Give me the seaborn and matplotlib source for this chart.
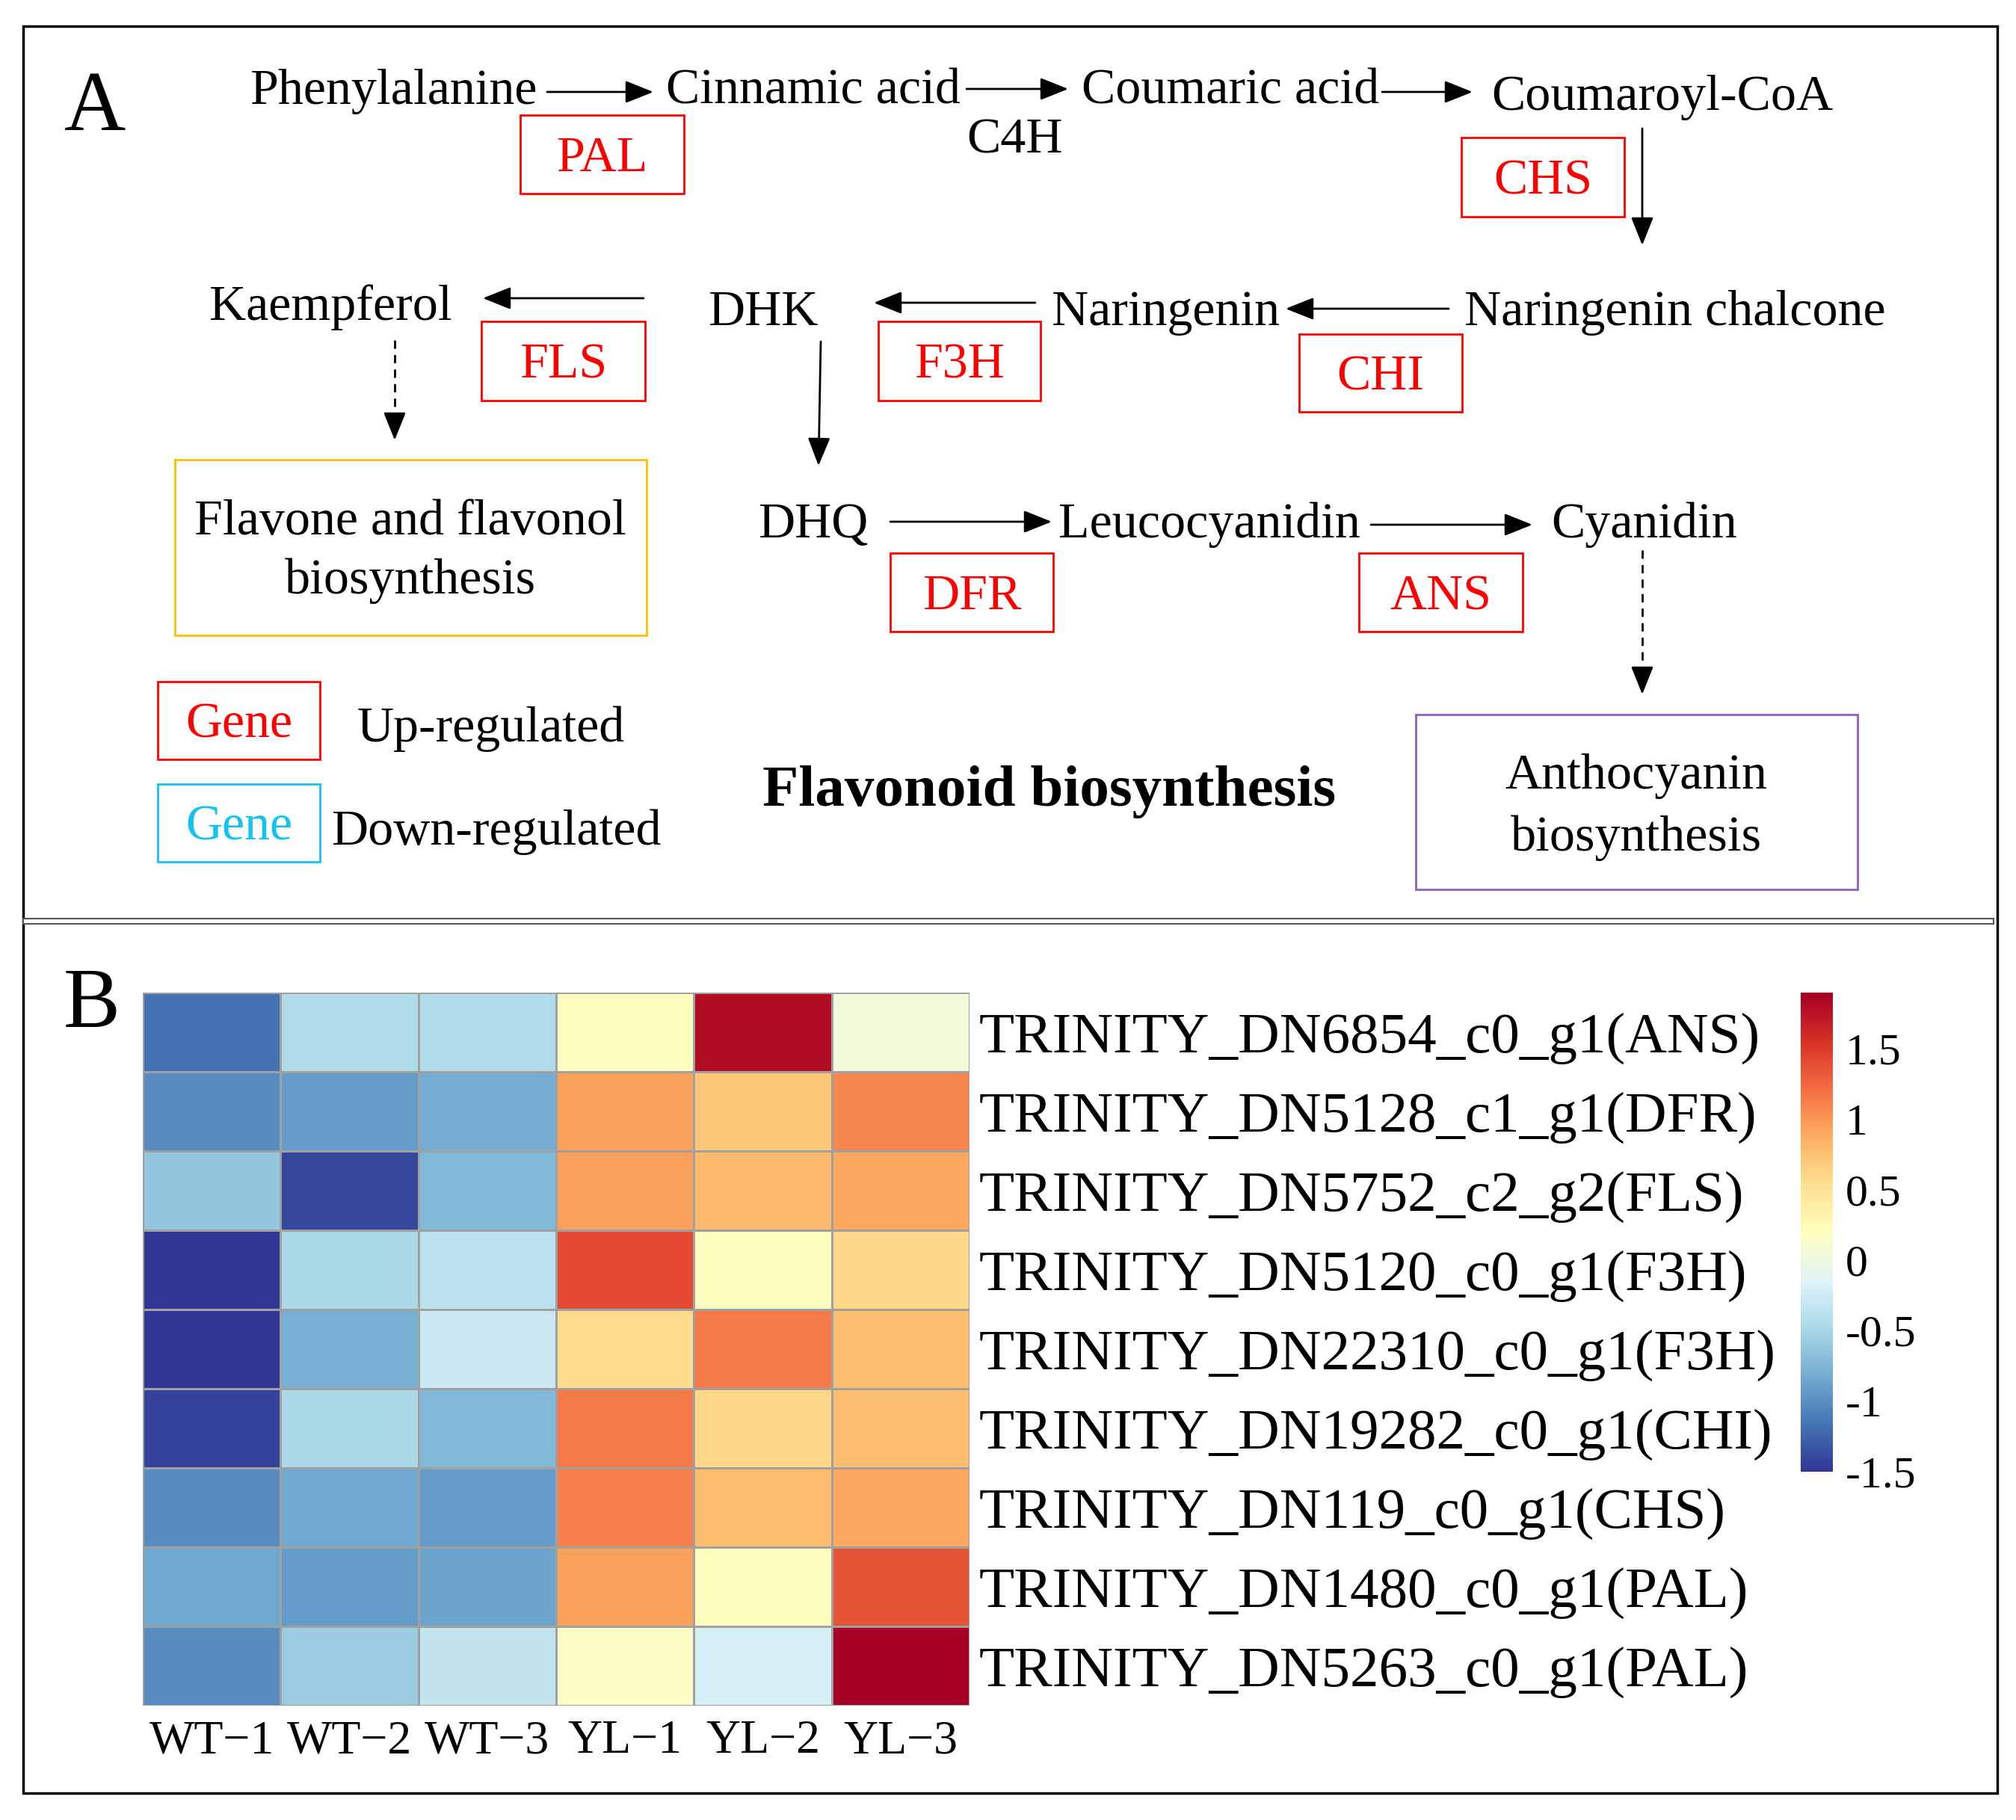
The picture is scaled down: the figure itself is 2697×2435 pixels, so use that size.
import pandas as pd
import matplotlib
matplotlib.use('Agg')
import matplotlib.pyplot as plt
from matplotlib.patches import Rectangle
import seaborn as sns

# heatmap data (row z-scores)
genes = ['TRINITY_DN6854_c0_g1(ANS)', 'TRINITY_DN5128_c1_g1(DFR)', 'TRINITY_DN5752_c2_g2(FLS)',
         'TRINITY_DN5120_c0_g1(F3H)', 'TRINITY_DN22310_c0_g1(F3H)', 'TRINITY_DN19282_c0_g1(CHI)',
         'TRINITY_DN119_c0_g1(CHS)', 'TRINITY_DN1480_c0_g1(PAL)', 'TRINITY_DN5263_c0_g1(PAL)']
samples = ['WT\u22121', 'WT\u22122', 'WT\u22123', 'YL\u22121', 'YL\u22122', 'YL\u22123']
wt1 = [-1.18, -1.02, -0.62, -1.50, -1.50, -1.43, -1.02, -0.84, -1.02]
wt2 = [-0.45, -0.92, -1.40, -0.48, -0.79, -0.48, -0.84, -0.92, -0.58]
wt3 = [-0.45, -0.82, -0.72, -0.38, -0.28, -0.72, -0.92, -0.87, -0.34]
yl1 = [0.20, 0.95, 0.95, 1.42, 0.57, 1.15, 1.12, 0.95, 0.17]
yl2 = [1.80, 0.71, 0.81, 0.20, 1.15, 0.61, 0.78, 0.20, -0.21]
yl3 = [0.05, 1.08, 0.91, 0.61, 0.78, 0.78, 0.91, 1.36, 1.90]
cbar_ticks = [1.5, 1, 0.5, 0, -0.5, -1, -1.5]
cbar_labels = ['1.5', '1', '0.5', '0', '-0.5', '-1', '-1.5']

sns.set_style('white')
plt.rcParams['font.family'] = ['Liberation Serif', 'DejaVu Serif']
plt.rcParams['text.color'] = 'black'
plt.rcParams['xtick.color'] = 'black'
plt.rcParams['ytick.color'] = 'black'

W, H = 2697, 2435
fig = plt.figure(figsize=(W / 100, H / 100), dpi=100)
ax = fig.add_axes([0, 0, 1, 1])
ax.set_xlim(0, W)
ax.set_ylim(H, 0)
ax.axis('off')

RED = '#FF0000'
CYAN = '#12C3F0'


def label(x, cy, s, size=49, ha='left', color='black', weight='normal'):
    # put the baseline so that capitals are centred on cy
    base = cy + 0.331 * size * 100 / 72
    ax.text(x, base, s, fontsize=size, ha=ha, va='baseline', color=color, fontweight=weight)


def box(x0, x1, y0, y1, color, lw=2):
    ax.add_patch(Rectangle((x0, y0), x1 - x0, y1 - y0, fill=False, ec=color, lw=lw))


def gene_box(x0, x1, y0, y1, s, color=RED):
    box(x0, x1, y0, y1, color)
    label((x0 + x1) / 2, (y0 + y1) / 2, s, ha='center', color=color)


def arrow(x0, y0, x1, y1):
    ax.annotate('', xy=(x1, y1), xytext=(x0, y0),
                arrowprops=dict(arrowstyle='-|>,head_length=0.55,head_width=0.22',
                                mutation_scale=42, lw=2, color='black',
                                shrinkA=0, shrinkB=0))


def dashed_arrow(x, y0, y1):
    ax.plot([x, x], [y0, y1 - 28], color='black', lw=2, ls=(0, (4, 3)))
    arrow(x, y1 - 30, x, y1)


# outer frame and separator
ax.add_patch(Rectangle((31, 35), 2672 - 31, 2399 - 35, fill=False, ec='black', lw=2.5))
ax.add_patch(Rectangle((31, 1229), 2667 - 31, 7, fc='white', ec='#555555', lw=1.5))

# ---- panel A ----
label(127, 136, 'A', size=82, ha='center')

label(334, 116, 'Phenylalanine')
label(891, 116, 'Cinnamic acid')
label(1447, 116, 'Coumaric acid')
label(1995, 124, 'Coumaroyl-CoA')
label(1422, 182, 'C4H', ha='right')
arrow(732, 123, 874, 123)
arrow(1293, 119, 1429, 119)
arrow(1849, 123, 1970, 123)
gene_box(696, 915, 154, 259, 'PAL')
gene_box(1955, 2173, 184, 290, 'CHS')
arrow(2197, 172, 2197, 328)

label(280, 405, 'Kaempferol')
label(947, 412, 'DHK')
label(1407, 412, 'Naringenin')
label(1959, 412, 'Naringenin chalcone')
arrow(1938, 413, 1720, 413)
arrow(1385, 405, 1169, 405)
arrow(861, 399, 646, 399)
gene_box(644, 863, 430, 536, 'FLS')
gene_box(1175, 1392, 430, 536, 'F3H')
gene_box(1738, 1956, 447, 551, 'CHI')
arrow(1098, 457, 1095, 623)
dashed_arrow(528, 455, 589)

box(234, 865, 615, 850, '#FFC000')
label(549, 692, 'Flavone and flavonol', ha='center')
label(549, 771, 'biosynthesis', ha='center')

label(1014, 696, 'DHQ')
label(1416, 696, 'Leucocyanidin')
label(2075, 696, 'Cyanidin')
arrow(1191, 698, 1407, 698)
arrow(1834, 702, 2050, 702)
gene_box(1191, 1409, 740, 845, 'DFR')
gene_box(1818, 2037, 740, 845, 'ANS')
dashed_arrow(2197, 736, 929)

box(1894, 2485, 956, 1190, '#8E5CC8')
label(2189, 1032, 'Anthocyanin', ha='center')
label(2189, 1115, 'biosynthesis', ha='center')

gene_box(211, 428, 912, 1016, 'Gene', RED)
label(478, 969, 'Up-regulated')
gene_box(211, 428, 1049, 1153, 'Gene', CYAN)
label(443, 1107, 'Down-regulated')
label(1020, 1052, 'Flavonoid biosynthesis', size=57, weight='bold')

# ---- panel B ----
label(123, 1336, 'B', size=82, ha='center')

df = pd.DataFrame({samples[0]: wt1, samples[1]: wt2, samples[2]: wt3,
                   samples[3]: yl1, samples[4]: yl2, samples[5]: yl3}, index=genes)

hax = fig.add_axes([191 / W, 1 - 2282 / H, (1297 - 191) / W, (2282 - 1328) / H])
cax = fig.add_axes([2409 / W, 1 - 1969 / H, 43 / W, (1969 - 1328) / H])
sns.heatmap(df, ax=hax, cbar_ax=cax, cmap='RdYlBu_r', vmin=-1.5, vmax=1.9,
            linewidths=2, linecolor='#A0A0A0')
hax.yaxis.tick_right()
hax.set_yticklabels(genes, rotation=0, fontsize=55.5)
hax.set_xticklabels(samples, rotation=0, fontsize=46)
hax.tick_params(axis='y', length=0, pad=9)
hax.tick_params(axis='x', length=0, pad=14)
hax.set_xlabel('')
hax.set_ylabel('')

cbar = hax.collections[0].colorbar
cbar.set_ticks(cbar_ticks)
cbar.set_ticklabels(cbar_labels)
cbar.outline.set_visible(False)
cax.tick_params(length=0, pad=12, labelsize=43)

fig.savefig('out.png', dpi=100)
